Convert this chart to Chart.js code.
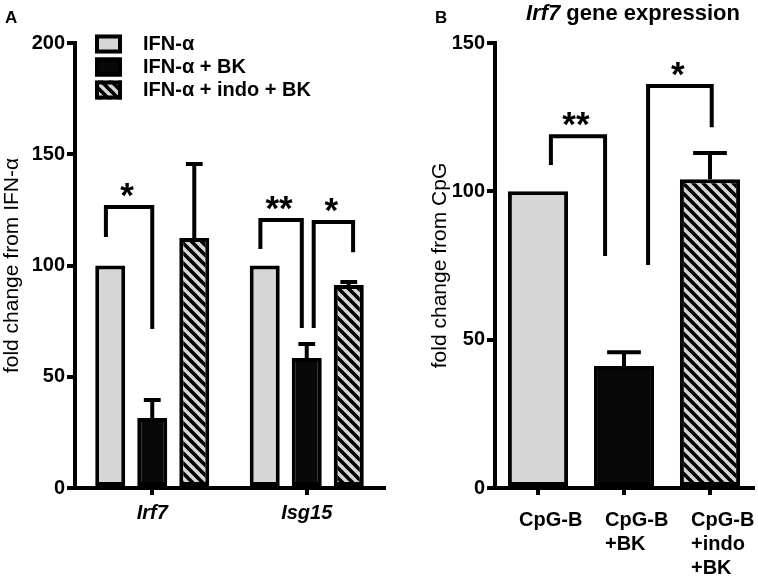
<!DOCTYPE html>
<html>
<head>
<meta charset="utf-8">
<script src="https://cdn.jsdelivr.net/npm/chart.js@4.4.0/dist/chart.umd.min.js"></script>
<style>
  html, body { margin: 0; padding: 0; background: #fff; }
  #wrap { position: relative; width: 758px; height: 576px; }
  #boxA { position: absolute; left: 0; top: 0; width: 390px; height: 576px; }
  #boxB { position: absolute; left: 390px; top: 0; width: 368px; height: 576px; }
</style>
</head>
<body>
<div id="wrap">
  <div id="boxA"><canvas id="chartA" width="390" height="576"></canvas></div>
  <div id="boxB"><canvas id="chartB" width="368" height="576"></canvas></div>
</div>
<script>
// Panel A: fold change from IFN-alpha
const genes = ["Irf7", "Isg15"];
const seriesA = ["IFN-\u03b1", "IFN-\u03b1 + BK", "IFN-\u03b1 + indo + BK"];
const ifnA = [100, 100];
const ifnBkA = [31.5, 58.4];
const ifnIndoBkA = [112.4, 91.2];
const ifnBkErrA = [8, 6.3];
const ifnIndoBkErrA = [33.2, 1.4];
const ticksA = [0, 50, 100, 150, 200];
// significance brackets A (x in category units, levels in fold change)
const sigFromA = [-0.3, 0.7, 1.045];
const sigToA = [0, 0.968, 1.3];
const sigTopA = [126.3, 120.4, 119.6];
const sigLeftEndA = [112.8, 107.4, 71.9];
const sigRightEndA = [71.5, 71.9, 106];
const sigLabelA = ["*", "**", "*"];

// Panel B: Irf7 gene expression, fold change from CpG
const treatB = [["CpG-B"], ["CpG-B", "+BK"], ["CpG-B", "+indo", "+BK"]];
const foldB = [100, 41.1, 104.1];
const errB = [0, 4.7, 8.8];
const ticksB = [0, 50, 100, 150];
const sigFromB = [0.15, 1.28];
const sigToB = [0.78, 2.02];
const sigTopB = [118.6, 135.5];
const sigLeftEndB = [108.9, 75.2];
const sigRightEndB = [78.2, 121.6];
const sigLabelB = ["**", "*"];

const FONT = '"Liberation Sans", Arial, Helvetica, sans-serif';
const GREY = "rgb(214,214,214)";
const BLACK = "#080808";
Chart.defaults.font.family = FONT;
Chart.defaults.color = "#000";

// grey with black "\" stripes
function makeHatch() {
  const s = 10;
  const c = document.createElement("canvas");
  c.width = s; c.height = s;
  const g = c.getContext("2d");
  g.fillStyle = GREY;
  g.fillRect(0, 0, s, s);
  g.strokeStyle = "#000";
  g.lineWidth = 3.6;
  [-s, 0, s].forEach(k => {
    g.beginPath();
    g.moveTo(-s, -s + k);
    g.lineTo(2 * s, 2 * s + k);
    g.stroke();
  });
  return g.createPattern(c, "repeat");
}
const HATCH = makeHatch();

const errorBarPlugin = {
  id: "errorBars",
  afterDatasetsDraw(chart) {
    const ctx = chart.ctx, y = chart.scales.y;
    ctx.save();
    ctx.strokeStyle = "#000";
    ctx.lineWidth = 4;
    chart.data.datasets.forEach((ds, i) => {
      if (!ds.errors) return;
      chart.getDatasetMeta(i).data.forEach((bar, j) => {
        const e = ds.errors[j];
        if (!e) return;
        const top = y.getPixelForValue(ds.data[j] + e);
        const half = bar.width * 0.28;
        ctx.beginPath();
        ctx.moveTo(bar.x, bar.y);
        ctx.lineTo(bar.x, top);
        ctx.moveTo(bar.x - half, top);
        ctx.lineTo(bar.x + half, top);
        ctx.stroke();
      });
    });
    ctx.restore();
  }
};

const bracketPlugin = {
  id: "brackets",
  afterDraw(chart, args, opts) {
    if (!opts.from) return;
    const ctx = chart.ctx, x = chart.scales.x, y = chart.scales.y;
    ctx.save();
    ctx.strokeStyle = "#000";
    ctx.fillStyle = "#000";
    ctx.lineWidth = 4;
    ctx.lineJoin = "miter";
    ctx.font = "bold 35px " + FONT;
    ctx.textAlign = "center";
    opts.from.forEach((f, i) => {
      const x1 = x.getPixelForValue(f), x2 = x.getPixelForValue(opts.to[i]);
      const yt = y.getPixelForValue(opts.top[i]);
      ctx.beginPath();
      ctx.moveTo(x1, y.getPixelForValue(opts.leftEnd[i]));
      ctx.lineTo(x1, yt);
      ctx.lineTo(x2, yt);
      ctx.lineTo(x2, y.getPixelForValue(opts.rightEnd[i]));
      ctx.stroke();
      const m = ctx.measureText(opts.label[i]);
      ctx.fillText(opts.label[i], (x1 + x2) / 2 - 2, yt - 10 - m.actualBoundingBoxDescent);
    });
    ctx.restore();
  }
};

const panelLetterPlugin = {
  id: "panelLetter",
  afterDraw(chart, args, opts) {
    if (!opts.text) return;
    const ctx = chart.ctx;
    ctx.save();
    ctx.font = "bold 17px " + FONT;
    ctx.fillStyle = "#000";
    ctx.textAlign = "left";
    ctx.textBaseline = "alphabetic";
    ctx.fillText(opts.text, opts.x, 23);
    ctx.restore();
  }
};

const legendAPlugin = {
  id: "legendA",
  afterDraw(chart) {
    const ctx = chart.ctx, a = chart.chartArea;
    ctx.save();
    ctx.font = "bold 20px " + FONT;
    ctx.textBaseline = "middle";
    ctx.textAlign = "left";
    chart.data.datasets.forEach((ds, i) => {
      const cy = a.top + 1 + i * 23;
      ctx.fillStyle = ds.backgroundColor;
      ctx.fillRect(a.left + 20, cy - 9.5, 27, 19);
      ctx.strokeStyle = "#000";
      ctx.lineWidth = 4;
      ctx.strokeRect(a.left + 22, cy - 7.5, 23, 15);
      ctx.fillStyle = "#000";
      ctx.fillText(ds.label, a.left + 68, cy);
    });
    ctx.restore();
  }
};

const titleBPlugin = {
  id: "titleB",
  afterDraw(chart) {
    const ctx = chart.ctx, a = chart.chartArea;
    const p1 = "Irf7", p2 = " gene expression";
    ctx.save();
    ctx.fillStyle = "#000";
    ctx.textBaseline = "alphabetic";
    ctx.textAlign = "left";
    ctx.font = "italic bold 22px " + FONT;
    const w1 = ctx.measureText(p1).width;
    ctx.font = "bold 22px " + FONT;
    const w2 = ctx.measureText(p2).width;
    let x0 = (a.left + a.right) / 2 + 9 - (w1 + w2) / 2;
    ctx.font = "italic bold 22px " + FONT;
    ctx.fillText(p1, x0, 20);
    ctx.font = "bold 22px " + FONT;
    ctx.fillText(p2, x0 + w1, 20);
    ctx.restore();
  }
};

const xLabelsBPlugin = {
  id: "xLabelsB",
  afterDraw(chart) {
    const ctx = chart.ctx, x = chart.scales.x;
    ctx.save();
    ctx.fillStyle = "#000";
    ctx.font = "bold 20px " + FONT;
    ctx.textAlign = "left";
    ctx.textBaseline = "middle";
    chart.data.labels.forEach((lines, i) => {
      const px = x.getPixelForTick(i) - 19;
      lines.forEach((t, k) => ctx.fillText(t, px, x.top + 32 + k * 24));
    });
    ctx.restore();
  }
};

function yAxis(max, ticks, title, width, titleShift) {
  return {
    min: 0, max: max,
    afterBuildTicks: s => { s.ticks = ticks.map(v => ({ value: v })); },
    ticks: { font: { size: 20, weight: "bold" }, color: "#000", padding: 2 },
    grid: { display: true, drawOnChartArea: false, drawTicks: true, tickLength: 8, tickWidth: 4, color: "#000", lineWidth: 4 },
    border: { display: true, color: "#000", width: 4 },
    title: { display: true, text: title, font: { size: 21 }, color: "#000", padding: { top: titleShift, bottom: 0 } },
    afterFit: s => { s.width = width; }
  };
}

function xAxis(showLabels) {
  return {
    offset: true,
    ticks: { display: showLabels, font: { size: 20, weight: "bold", style: "italic" }, color: "#000", padding: 6 },
    grid: { display: true, offset: false, drawOnChartArea: false, drawTicks: true, tickLength: 7, tickWidth: 4, color: "#000", lineWidth: 4 },
    border: { display: true, color: "#000", width: 4 },
    afterFit: s => { s.height = 88; }
  };
}

const barStyle = { borderColor: "#000", borderWidth: 4, borderSkipped: false };

new Chart(document.getElementById("chartA"), {
  type: "bar",
  data: {
    labels: genes,
    datasets: [
      Object.assign({ label: seriesA[0], data: ifnA, backgroundColor: GREY }, barStyle),
      Object.assign({ label: seriesA[1], data: ifnBkA, errors: ifnBkErrA, backgroundColor: BLACK }, barStyle),
      Object.assign({ label: seriesA[2], data: ifnIndoBkA, errors: ifnIndoBkErrA, backgroundColor: HATCH }, barStyle)
    ]
  },
  options: {
    responsive: false,
    animation: false,
    devicePixelRatio: 1,
    barPercentage: 0.714,
    categoryPercentage: 0.816,
    layout: { padding: { left: 0, top: 43, right: 6, bottom: 0 } },
    plugins: {
      legend: { display: false },
      tooltip: { enabled: false },
      brackets: { from: sigFromA, to: sigToA, top: sigTopA, leftEnd: sigLeftEndA, rightEnd: sigRightEndA, label: sigLabelA },
      panelLetter: { text: "A", x: 5 }
    },
    scales: {
      x: xAxis(true),
      y: yAxis(200, ticksA, "fold change from IFN-\u03b1", 75, 0)
    }
  },
  plugins: [errorBarPlugin, bracketPlugin, panelLetterPlugin, legendAPlugin]
});

new Chart(document.getElementById("chartB"), {
  type: "bar",
  data: {
    labels: treatB,
    datasets: [
      Object.assign({ label: "Irf7", data: foldB, errors: errB, backgroundColor: [GREY, BLACK, HATCH] }, barStyle)
    ]
  },
  options: {
    responsive: false,
    animation: false,
    devicePixelRatio: 1,
    barPercentage: 0.70,
    categoryPercentage: 1,
    layout: { padding: { left: 0, top: 43, right: 5, bottom: 0 } },
    plugins: {
      legend: { display: false },
      tooltip: { enabled: false },
      brackets: { from: sigFromB, to: sigToB, top: sigTopB, leftEnd: sigLeftEndB, rightEnd: sigRightEndB, label: sigLabelB },
      panelLetter: { text: "B", x: 45 }
    },
    scales: {
      x: xAxis(false),
      y: yAxis(150, ticksB, "fold change from CpG", 105, 38)
    }
  },
  plugins: [errorBarPlugin, bracketPlugin, panelLetterPlugin, titleBPlugin, xLabelsBPlugin]
});
</script>
</body>
</html>
